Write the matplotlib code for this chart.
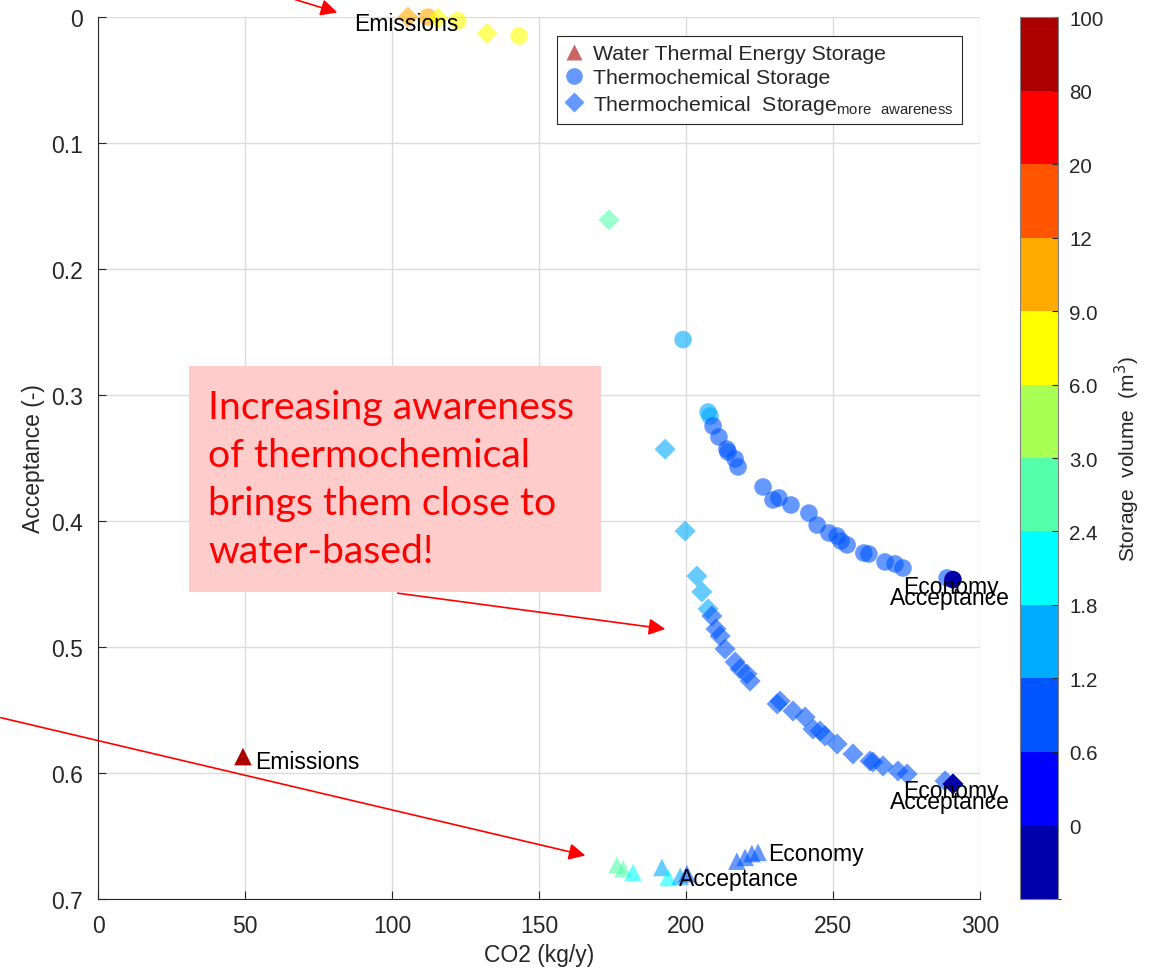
import numpy as np
import matplotlib
matplotlib.use("Agg")
import matplotlib.pyplot as plt
from matplotlib.colors import ListedColormap, BoundaryNorm
from matplotlib.lines import Line2D
from matplotlib.patches import Rectangle
import matplotlib.cm as cm

plt.rcParams['font.family'] = ['Liberation Sans', 'DejaVu Sans']

# colour levels index into the 12-step storage-volume colour bar (0 = darkest blue)
cbar_labels = ['0', '0.6', '1.2', '1.8', '2.4', '3.0', '6.0', '9.0', '12', '20', '80', '100']
jet12 = ['#0000aa', '#0000ff', '#0055ff', '#00aaff', '#00ffff', '#55ffaa',
         '#aaff55', '#ffff00', '#ffaa00', '#ff5500', '#ff0000', '#aa0000']

# Water thermal energy storage (triangles)
water_co2 = [49.3, 176.5, 178.6, 182.0, 191.8, 193.9, 198.0, 200.3, 217.3, 220.1, 222.4, 224.5]
water_acc = [0.587, 0.673, 0.676, 0.679, 0.675, 0.683, 0.682, 0.680, 0.670, 0.667, 0.664, 0.663]
water_lvl = [11, 5, 5, 4, 3, 4, 3, 2, 2, 2, 2, 2]

# Thermochemical storage (circles)
tc_co2 = [112.2, 122.4, 143.2, 199.0, 207.5, 208.2, 209.2, 211.2, 213.9, 214.3, 216.7, 217.7,
          226.2, 229.6, 231.6, 235.7, 241.8, 244.6, 248.6, 251.4, 252.7, 254.8, 260.5, 262.2,
          267.7, 271.1, 273.8, 288.8, 290.8]
tc_acc = [0.000, 0.003, 0.015, 0.256, 0.3135, 0.3167, 0.3246, 0.3333, 0.3429, 0.3452, 0.3508, 0.3571,
          0.3730, 0.3833, 0.3817, 0.3873, 0.3937, 0.4032, 0.4095, 0.4119, 0.4159, 0.4190, 0.4254, 0.4262,
          0.4325, 0.4341, 0.4373, 0.4452, 0.4465]
tc_lvl = [8, 7, 7, 3, 3, 3, 2, 2, 2, 2, 2, 2,
          2, 2, 2, 2, 2, 2, 2, 2, 2, 2, 2, 2,
          2, 2, 2, 2, 0]

# Thermochemical storage with more awareness (diamonds)
tca_co2 = [105.4, 115.6, 132.3, 173.8, 192.9, 199.7, 203.7, 205.4, 207.5, 208.8, 210.2, 211.6,
           213.3, 216.7, 218.4, 220.7, 221.8, 231.0, 232.0, 236.4, 240.5, 243.2, 245.6, 247.3,
           251.4, 256.8, 262.6, 263.6, 267.0, 272.1, 275.2, 288.1, 290.8]
tca_acc = [0.000, 0.001, 0.013, 0.161, 0.343, 0.408, 0.4437, 0.4563, 0.4698, 0.4754, 0.4857, 0.4913,
           0.5016, 0.5119, 0.5175, 0.5214, 0.5270, 0.5452, 0.5429, 0.5508, 0.5556, 0.5651, 0.5667, 0.5706,
           0.5770, 0.5849, 0.5905, 0.5913, 0.5944, 0.5984, 0.6008, 0.6063, 0.6087]
tca_lvl = [8, 7, 7, 5, 3, 3, 3, 3, 3, 2, 2, 2,
           2, 2, 2, 2, 2, 2, 2, 2, 2, 2, 2, 2,
           2, 2, 2, 2, 2, 2, 2, 2, 0]

cmap = ListedColormap(jet12)
norm = BoundaryNorm(np.arange(13), 12)

fig = plt.figure(figsize=(11.52, 9.70), dpi=100)
ax = fig.add_axes([0.0851, 0.0722, 0.7656, 0.9092])
cax = fig.add_axes([0.8854, 0.0722, 0.033, 0.9092])


def draw(x, y, lvl, marker, size):
    lvl = np.array(lvl)
    alpha = np.where((lvl == 0) | (lvl == 11), 1.0, 0.6)
    ax.scatter(x, y, c=lvl, cmap=cmap, norm=norm, marker=marker, s=size,
               alpha=alpha, linewidths=0, zorder=3, clip_on=False)


draw(water_co2, water_acc, water_lvl, '^', 160)
draw(tc_co2, tc_acc, tc_lvl, 'o', 160)
draw(tca_co2, tca_acc, tca_lvl, 'D', 115)

ax.set_xlim(0, 300)
ax.set_ylim(0.7, 0)
ax.set_xticks(np.arange(0, 301, 50))
ax.set_yticks(np.arange(0, 0.71, 0.1))
ax.set_yticklabels(['0', '0.1', '0.2', '0.3', '0.4', '0.5', '0.6', '0.7'])
ax.grid(True, color='#dcdcdc', linewidth=1)
ax.set_axisbelow(True)
ax.tick_params(direction='in', length=6, labelsize=16.5, colors='#262626', pad=11)
for s in ['top', 'right']:
    ax.spines[s].set_visible(False)
for s in ['left', 'bottom']:
    ax.spines[s].set_color('#262626')
ax.set_xlabel('CO2 (kg/y)', fontsize=16.5, color='#262626', labelpad=4)
ax.set_ylabel('Acceptance (-)', fontsize=16.5, color='#262626', labelpad=4)

# point labels
lab = dict(fontsize=16.5, color='black', va='center', zorder=4)
ax.text(87, 0.005, 'Emissions', **lab)
ax.text(53.5, 0.591, 'Emissions', **lab)
ax.text(197.5, 0.684, 'Acceptance', **lab)
ax.text(228, 0.664, 'Economy', **lab)
ax.text(273.8, 0.452, 'Economy', **lab)
ax.text(269.4, 0.461, 'Acceptance', **lab)
ax.text(273.8, 0.614, 'Economy', **lab)
ax.text(269.4, 0.623, 'Acceptance', **lab)

# annotation box
ax.add_patch(Rectangle((31.0, 0.277), 140.1, 0.179, facecolor='#ffcccc',
                       edgecolor='none', zorder=2))
ax.text(37.4, 0.295, 'Increasing awareness\nof thermochemical\nbrings them close to\nwater-based!',
        fontsize=28.3, color='#ff0000', family='Lato', va='top', ha='left',
        linespacing=1.42, zorder=2.5)

arrow = dict(arrowstyle='-|>', color='#ff0000', lw=1.2, mutation_scale=25)
ax.annotate('', xy=(82.3, -0.003), xytext=(58.5, -0.02), arrowprops=arrow,
            annotation_clip=False)
ax.annotate('', xy=(166.7, 0.666), xytext=(-34, 0.5556), arrowprops=arrow,
            annotation_clip=False)
ax.annotate('', xy=(193.9, 0.486), xytext=(101, 0.457), arrowprops=arrow,
            annotation_clip=False)

# legend
handles = [
    Line2D([], [], marker='^', color='none', markerfacecolor='#cc6666', markeredgecolor='none', markersize=12),
    Line2D([], [], marker='o', color='none', markerfacecolor='#6699ff', markeredgecolor='none', markersize=12),
    Line2D([], [], marker='D', color='none', markerfacecolor='#6699ff', markeredgecolor='none', markersize=10),
]
labels = ['Water Thermal Energy Storage', 'Thermochemical Storage',
          r'Thermochemical  Storage$_{\mathregular{more\ \ awareness}}$']
leg = ax.legend(handles, labels, loc='upper left', bbox_to_anchor=(0.5204, 0.979),
                borderaxespad=0, fontsize=15.3, frameon=True, fancybox=False,
                handlelength=0.8, handletextpad=0.5, borderpad=0.4, labelspacing=0.25,
                edgecolor='#262626', framealpha=1)
leg.get_frame().set_linewidth(0.8)
for t in leg.get_texts():
    t.set_color('#262626')

# colour bar
sm = cm.ScalarMappable(norm=norm, cmap=cmap)
cb = fig.colorbar(sm, cax=cax, ticks=np.arange(1, 13))
cb.set_ticklabels(cbar_labels)
cb.outline.set_edgecolor('#808080')
cax.tick_params(direction='in', length=4, labelsize=14.8, colors='#262626', pad=8)
cb.set_label('Storage  volume  (m$^3$)', fontsize=15, color='#262626', labelpad=7)

fig.savefig('out.png', dpi=100)
